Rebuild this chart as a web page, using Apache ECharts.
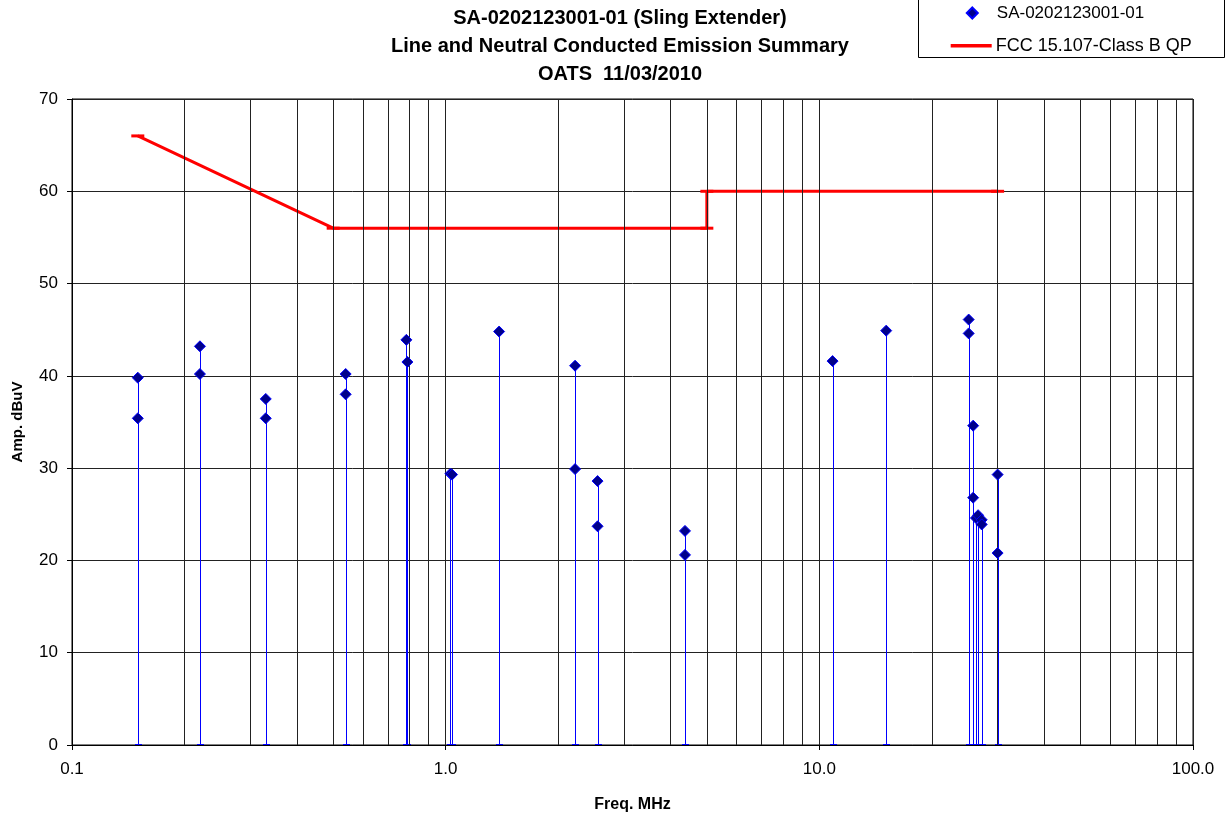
<!DOCTYPE html>
<html>
<head>
<meta charset="utf-8">
<script src="https://cdn.jsdelivr.net/npm/echarts@6/dist/echarts.min.js"></script>
<style>
html,body{margin:0;padding:0;background:#fff;}
#chart{width:1230px;height:818px;}
</style>
</head>
<body>
<div id="chart"></div>
<script>
// Measured emissions (frequency MHz, amplitude dBuV)
const freqMHz = [0.15, 0.15, 0.22, 0.22, 0.33, 0.33, 0.54, 0.54, 0.785, 0.79,
  1.03, 1.04, 1.39, 2.22, 2.22, 2.55, 2.55, 4.37, 4.37, 10.85, 15.1,
  25.1, 25.1, 25.8, 25.8, 26.25, 26.6, 27.2, 27.2, 30.0, 30.0];
const ampDbuV = [39.8, 35.4, 43.2, 40.2, 37.5, 35.4, 40.2, 38.0, 43.9, 41.5,
  29.4, 29.3, 44.8, 41.1, 29.9, 28.6, 23.7, 23.2, 20.6, 41.6, 44.9,
  46.1, 44.6, 34.6, 26.8, 24.6, 24.9, 24.4, 23.9, 29.3, 20.8];
// FCC 15.107 Class B QP limit
const limitFreq = [0.15, 0.5, 5, 5, 30];
const limitAmp = [66, 56, 56, 60, 60];
// Axis ticks
const yTicks = [0, 10, 20, 30, 40, 50, 60, 70];
const xDecades = [0.1, 1, 10, 100];
const seriesName = 'SA-0202123001-01';
const limitName = 'FCC 15.107-Class B QP';
const titleLines = ['SA-0202123001-01 (Sling Extender)', 'Line and Neutral Conducted Emission Summary', 'OATS  11/03/2010'];

const FONT = 'Arial, "Liberation Sans", sans-serif';
const points = freqMHz.map((f, i) => [f, ampDbuV[i]]);
const limitPts = limitFreq.map((f, i) => [f, limitAmp[i]]);

// minor vertical grid lines (2..9 within each decade)
const minorGrid = [];
for (let d = 0; d < xDecades.length - 1; d++) {
  for (let k = 2; k <= 9; k++) minorGrid.push({ xAxis: +(xDecades[d] * k).toPrecision(3) });
}
minorGrid.push({ xAxis: xDecades[1] }, { xAxis: xDecades[2] });

const chart = echarts.init(document.getElementById('chart'), null, { renderer: 'canvas' });
chart.setOption({
  animation: false,
  backgroundColor: '#fff',
  textStyle: { fontFamily: FONT },
  title: {
    text: titleLines.join('\n'),
    left: 620, top: 4, textAlign: 'center', padding: 0,
    textStyle: { fontFamily: FONT, fontSize: 20, fontWeight: 'bold', color: '#000', lineHeight: 28 }
  },
  graphic: [{
    type: 'rect', shape: { x: 918.5, y: -2, width: 306, height: 59.5 },
    style: { fill: 'none', stroke: '#000', lineWidth: 1 }, z: 0
  }],
  legend: [{
    data: [{ name: seriesName, icon: 'diamond' }],
    left: 965.8, top: 4.5, padding: 0, itemWidth: 11, itemHeight: 11, selectedMode: false,
    textStyle: { fontFamily: FONT, fontSize: 17, color: '#000', padding: [0, 0, 0, 14] }
  }, {
    data: [{ name: limitName, icon: 'rect' }],
    left: 950.7, top: 36.7, padding: 0, itemWidth: 41, itemHeight: 3.5, selectedMode: false,
    textStyle: { fontFamily: FONT, fontSize: 18, color: '#000', padding: [0, 0, 0, -1] }
  }],
  grid: { left: 72, right: 37, top: 99, bottom: 71, show: true, borderColor: '#000', borderWidth: 1, containLabel: false },
  xAxis: {
    type: 'log', logBase: 10, min: 0.1, max: 100,
    name: 'Freq. MHz', nameLocation: 'middle', nameGap: 52,
    nameTextStyle: { fontFamily: FONT, fontSize: 16, fontWeight: 'bold', color: '#000' },
    axisLine: { show: true, lineStyle: { color: '#000', width: 1 } },
    axisTick: { show: true, length: 5, inside: false, lineStyle: { color: '#000' } },
    axisLabel: { fontFamily: FONT, fontSize: 17, color: '#000', margin: 16, formatter: v => (+v).toFixed(1) },
    splitLine: { show: true, lineStyle: { color: '#222', width: 1 } },
    minorTick: { show: false }, minorSplitLine: { show: false }
  },
  yAxis: {
    type: 'value', min: 0, max: 70, interval: 10,
    name: 'Amp. dBuV', nameLocation: 'middle', nameGap: 47, nameRotate: 90,
    nameTextStyle: { fontFamily: FONT, fontSize: 15, fontWeight: 'bold', color: '#000' },
    axisLine: { show: true, lineStyle: { color: '#000', width: 1 } },
    axisTick: { show: true, length: 5, inside: false, lineStyle: { color: '#000' } },
    axisLabel: { fontFamily: FONT, fontSize: 17, color: '#000', margin: 14,
      formatter: v => (yTicks.indexOf(v) >= 0 ? String(v) : '') },
    splitLine: { show: true, lineStyle: { color: '#222', width: 1 } }
  },
  series: [
    {
      name: 'grid-minor', type: 'line', data: [], silent: true,
      markLine: {
        silent: true, symbol: ['none', 'none'], animation: false,
        label: { show: false },
        lineStyle: { color: '#222', width: 1, type: 'solid' },
        emphasis: { disabled: true },
        data: minorGrid
      },
      z: 1
    },
    {
      name: 'stems', type: 'custom', data: points, z: 3, silent: true,
      renderItem: (params, api) => {
        const x = api.value(0), y = api.value(1);
        const top = api.coord([x, y]);
        const bot = api.coord([x, 0]);
        return {
          type: 'group',
          children: [
            { type: 'line', shape: { x1: Math.round(top[0]) + 0.5, y1: top[1], x2: Math.round(bot[0]) + 0.5, y2: bot[1] },
              style: { stroke: '#0000ff', lineWidth: 1 } },
            { type: 'line', shape: { x1: Math.round(bot[0]) - 3, y1: bot[1] - 0.5, x2: Math.round(bot[0]) + 4, y2: bot[1] - 0.5 },
              style: { stroke: '#0000ff', lineWidth: 1 } }
          ]
        };
      }
    },
    {
      name: limitName, type: 'line', data: limitPts, z: 4,
      symbol: 'rect', symbolSize: [13, 3], showSymbol: true,
      itemStyle: { color: '#ff0000' },
      lineStyle: { color: '#ff0000', width: 3 }
    },
    {
      name: seriesName, type: 'scatter', data: points, z: 5,
      symbol: 'diamond', symbolSize: 11,
      itemStyle: { color: '#00008b', borderColor: '#0000ff', borderWidth: 1, opacity: 1 }
    }
  ]
});
</script>
</body>
</html>
